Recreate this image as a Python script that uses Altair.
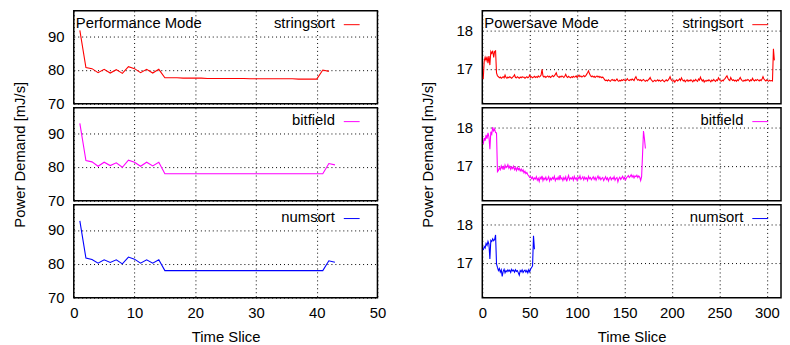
import altair as alt
import pandas as pd

FONT = "Liberation Sans"
FS = 15

# ---------------- data ----------------
perf_stringsort = [91.7, 80.7, 80.4, 79.2, 80.2, 79.1, 80.1, 79.0, 81.0, 80.4,
                   79.2, 80.2, 79.1, 80.2, 77.7, 77.7, 77.7, 77.6, 77.6, 77.6,
                   77.6, 77.5, 77.5, 77.5, 77.5, 77.5, 77.5, 77.5, 77.4, 77.4,
                   77.4, 77.4, 77.4, 77.4, 77.4, 77.4, 77.3, 77.3, 77.3, 77.3,
                   80.0, 79.6]
perf_bitfield = [92.9, 81.9, 81.5, 80.2, 81.4, 80.4, 81.2, 79.9, 82.0, 81.4,
                 80.2, 81.4, 80.3, 81.4, 78.0, 78.0, 78.0, 78.0, 78.0, 78.0,
                 78.0, 78.0, 78.0, 78.0, 78.0, 78.0, 78.0, 78.0, 78.0, 78.0,
                 78.0, 78.0, 78.0, 78.0, 78.0, 78.0, 78.0, 78.0, 78.0, 78.0,
                 78.0, 81.0, 80.6]
perf_numsort = [92.7, 81.7, 81.3, 80.2, 81.2, 80.4, 81.2, 80.0, 82.0, 81.4,
                80.2, 81.2, 80.2, 81.2, 78.0, 78.0, 78.0, 78.0, 78.0, 78.0,
                78.0, 78.0, 78.0, 78.0, 78.0, 78.0, 78.0, 78.0, 78.0, 78.0,
                78.0, 78.0, 78.0, 78.0, 78.0, 78.0, 78.0, 78.0, 78.0, 78.0,
                78.0, 80.9, 80.5]

save_stringsort = [
    16.74, 17.20, 17.30, 17.22, 17.32, 17.15, 17.33, 17.10, 17.45, 17.40,
    17.47, 17.30, 17.45, 17.47, 16.90, 16.82,
    16.80, 16.77, 16.79, 16.76, 16.78, 16.80, 16.77, 16.84, 16.78, 16.76,
    16.79, 16.77, 16.80, 16.78, 16.76, 16.79, 16.81, 16.85, 16.78, 16.77,
    16.80, 16.78, 16.76, 16.79, 16.77, 16.80, 16.78, 16.79, 16.76, 16.78,
    16.80, 16.77, 16.79, 16.84, 16.78, 16.80, 16.77, 16.79, 16.81, 16.78,
    16.80, 16.78, 16.82, 16.79, 16.81, 16.84, 16.99, 16.82, 16.79, 16.81,
    16.78, 16.80, 16.82, 16.79, 16.81, 16.78, 16.80, 16.83, 16.80, 16.82,
    16.86, 16.90, 16.82, 16.80, 16.78, 16.81, 16.79, 16.82, 16.80, 16.78,
    16.81, 16.86, 16.80, 16.78, 16.81, 16.79, 16.77, 16.80, 16.78, 16.81,
    16.79, 16.80, 16.82, 16.78, 16.81, 16.84, 16.80, 16.82, 16.79, 16.81,
    16.83, 16.80, 16.82, 16.86, 16.90, 16.95, 16.88, 16.83, 16.80, 16.82,
    16.79, 16.81, 16.78, 16.80, 16.82, 16.79, 16.81, 16.78, 16.80, 16.77,
    16.79, 16.76,
    16.72, 16.70, 16.71, 16.69, 16.72, 16.70, 16.68, 16.71, 16.73, 16.70,
    16.72, 16.69, 16.71, 16.74, 16.70, 16.68, 16.71, 16.69, 16.72, 16.70,
    16.73, 16.71, 16.69, 16.72, 16.75, 16.71, 16.70, 16.73, 16.71, 16.74,
    16.72, 16.70, 16.76, 16.80, 16.74, 16.71, 16.73, 16.70, 16.72, 16.69,
    16.71, 16.73, 16.70, 16.68, 16.71, 16.69, 16.72, 16.74, 16.78, 16.72,
    16.70, 16.67, 16.69, 16.71, 16.68, 16.70, 16.72, 16.69, 16.71, 16.68,
    16.70, 16.72, 16.69, 16.67, 16.70, 16.72, 16.69, 16.71, 16.75, 16.80,
    16.73, 16.70, 16.68, 16.71, 16.66, 16.70, 16.72, 16.69, 16.71, 16.74,
    16.70, 16.77, 16.72, 16.69, 16.71, 16.67, 16.70, 16.72, 16.68, 16.71,
    16.69, 16.72, 16.70, 16.67, 16.71, 16.69, 16.73, 16.70, 16.68, 16.74,
    16.71, 16.79, 16.73, 16.69, 16.72, 16.66, 16.70, 16.68, 16.71, 16.69,
    16.72, 16.70, 16.67, 16.71, 16.69, 16.73, 16.70, 16.68, 16.72, 16.70,
    16.77, 16.73, 16.70, 16.68, 16.71, 16.69, 16.73, 16.75, 16.79, 16.82,
    16.76, 16.72, 16.70, 16.78, 16.73, 16.70, 16.72, 16.69, 16.71, 16.68,
    16.72, 16.70, 16.74, 16.78, 16.73, 16.70, 16.68, 16.71, 16.69, 16.72,
    16.70, 16.73, 16.71, 16.68, 16.72, 16.70, 16.76, 16.71, 16.69, 16.72,
    16.70, 16.73, 16.71, 16.69, 16.72, 16.70, 16.74, 16.80, 16.74, 16.71,
    16.69, 16.72, 16.70, 16.68, 16.71, 16.69, 16.70,
    16.69, 17.52, 17.22]

save_bitfield = [
    17.56, 17.72, 17.65, 17.80, 17.70, 17.85, 17.75, 17.43, 17.88, 17.82,
    18.00, 17.90, 17.95, 17.86, 17.85, 16.85,
    16.88, 16.95, 16.90, 17.00, 16.93, 16.98, 16.90, 17.02, 16.95, 16.97,
    17.03, 16.94, 16.99, 16.91, 16.97, 16.93, 16.99, 16.90, 16.95, 16.88,
    16.96, 16.90, 16.94, 16.87, 16.92, 16.86, 16.90, 16.82, 16.86, 16.80,
    16.83, 16.77, 16.74, 16.70, 16.72, 16.67, 16.71, 16.64, 16.69, 16.66,
    16.72, 16.63, 16.68, 16.60, 16.70, 16.66, 16.74, 16.62, 16.69, 16.65,
    16.71, 16.63, 16.67, 16.72, 16.61, 16.68, 16.64, 16.70, 16.66, 16.73,
    16.62, 16.68, 16.65, 16.71, 16.63, 16.76, 16.66, 16.69, 16.62, 16.70,
    16.65, 16.72, 16.60, 16.68, 16.75, 16.64, 16.69, 16.66, 16.71, 16.63,
    16.73, 16.66, 16.69, 16.62, 16.70, 16.67, 16.74, 16.65, 16.68, 16.72,
    16.64, 16.71, 16.66, 16.69, 16.62, 16.73, 16.67, 16.70, 16.64, 16.68,
    16.72, 16.65, 16.70, 16.63, 16.69, 16.74, 16.66, 16.71, 16.64, 16.68,
    16.70, 16.62, 16.67, 16.72, 16.65, 16.69, 16.61, 16.68, 16.71, 16.64,
    16.69, 16.66, 16.72, 16.63, 16.68, 16.70, 16.59, 16.67, 16.71, 16.65,
    16.69, 16.73, 16.66, 16.70, 16.64, 16.69, 16.72, 16.75, 16.70, 16.73,
    16.77, 16.71, 16.75, 16.69, 16.74, 16.72, 16.76, 16.70, 16.74, 16.71,
    16.62, 16.72, 17.30, 17.90, 17.70, 17.45]

save_numsort = [
    17.33, 17.42, 17.38, 17.50, 17.45, 17.55, 17.48, 17.10, 17.58, 17.55,
    17.62, 17.57, 17.60, 17.72, 16.97, 16.88,
    16.80, 16.85, 16.76, 16.82, 16.65, 16.78, 16.83, 16.74, 16.80, 16.77,
    16.82, 16.78, 16.81, 16.75, 16.83, 16.79, 16.81, 16.76, 16.82, 16.78,
    16.80, 16.74, 16.68, 16.80, 16.77, 16.82, 16.75, 16.79, 16.81, 16.76,
    16.80, 16.74, 16.82, 16.77, 16.84, 16.88, 16.92, 17.70, 17.35]

names = ["stringsort", "bitfield", "numsort"]
colors = ["#ff0000", "#ff00ff", "#0000ff"]
mode_titles = ["Performance Mode", "Powersave Mode"]

perf_xdomain = [0, 50]
perf_xticks = [0, 10, 20, 30, 40, 50]
perf_ydomain = [70, 97.5]
perf_yticks = [70, 80, 90]

save_xdomain = [0, 315]
save_xticks = [0, 50, 100, 150, 200, 250, 300]
save_ydomain = [16.1, 18.5]
save_yticks = [17, 18]

x_title = "Time Slice"
y_title = "Power Demand [mJ/s]"

PANEL_H = 94
WIDTHS = [307, 302]


def panel(values, row, col):
    df = pd.DataFrame({"x": list(range(1, len(values) + 1)), "y": values})
    if col == 0:
        xdom, xt, ydom, yt = perf_xdomain, perf_xticks, perf_ydomain, perf_yticks
    else:
        xdom, xt, ydom, yt = save_xdomain, save_xticks, save_ydomain, save_yticks
    bottom = row == 2
    xaxis = alt.Axis(values=xt, labels=bottom, grid=True, format="d")
    yaxis = alt.Axis(values=yt, grid=True, format="d")
    xenc = alt.X("x:Q", scale=alt.Scale(domain=xdom, nice=False, zero=False),
                 axis=xaxis, title=x_title if bottom else None)
    yenc = alt.Y("y:Q", scale=alt.Scale(domain=ydom, nice=False, zero=False),
                 axis=yaxis, title=y_title if row == 1 else None)
    line = alt.Chart(df).mark_line(color=colors[row], strokeWidth=1.1).encode(x=xenc, y=yenc)

    label = alt.Chart(pd.DataFrame({"t": [names[row]]})).mark_text(
        align="right", baseline="middle", font=FONT, fontSize=FS, color="black"
    ).encode(x=alt.value(264), y=alt.value(12), text="t:N")
    sample = alt.Chart(pd.DataFrame({"t": [names[row]]})).mark_rule(
        color=colors[row], strokeWidth=1
    ).encode(x=alt.value(273), x2=alt.value(289), y=alt.value(14))
    layers = [line, label, sample]
    if row == 0:
        ttl = alt.Chart(pd.DataFrame({"t": [mode_titles[col]]})).mark_text(
            align="left", baseline="middle", font=FONT, fontSize=FS, color="black"
        ).encode(x=alt.value(2), y=alt.value(12), text="t:N")
        layers.append(ttl)
    return alt.layer(*layers).properties(width=WIDTHS[col], height=PANEL_H)


perf_series = [perf_stringsort, perf_bitfield, perf_numsort]
save_series = [save_stringsort, save_bitfield, save_numsort]

panels = []
for r in range(3):
    panels.append(panel(perf_series[r], r, 0))
    panels.append(panel(save_series[r], r, 1))

chart = alt.concat(
    *panels, columns=2, spacing={"row": 4, "column": 106}, bounds="flush"
).properties(
    padding={"left": 3.5, "top": 0, "right": 0, "bottom": 0}
).configure(
    font=FONT
).configure_view(
    stroke="black", strokeWidth=1.5
).configure_axis(
    domain=False, ticks=False,
    labelFont=FONT, labelFontSize=FS, labelColor="black",
    titleFont=FONT, titleFontSize=FS, titleColor="black", titleFontWeight="normal",
    gridColor="black", gridDash=[1, 3], gridOpacity=1, gridWidth=1,
    labelFlush=False, labelOverlap=False
).configure_axisX(
    labelPadding=8, titlePadding=9
).configure_axisY(
    labelPadding=10, titlePadding=20.5
)

chart.save("out.html", embed_options={"renderer": "svg", "actions": False})
